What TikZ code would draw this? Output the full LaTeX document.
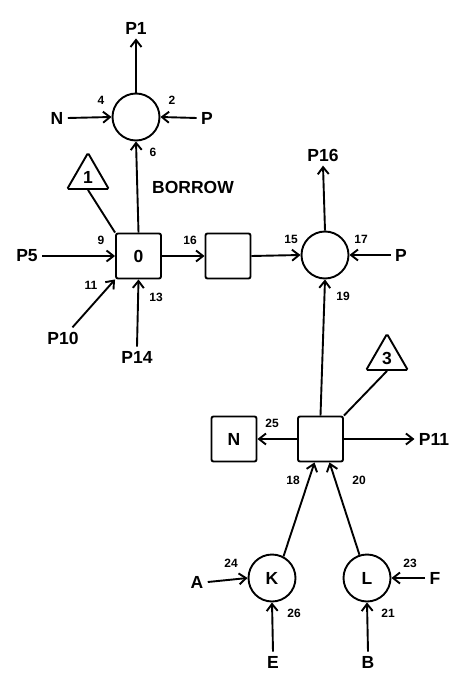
\documentclass[tikz,border=0pt]{standalone}
\usepackage{fontspec}
\setmainfont{Liberation Sans}
\usetikzlibrary{arrows.meta,shapes.geometric,calc}
\begin{document}
\begin{tikzpicture}[x=1pt,y=-1pt,line width=1.9pt,
  arr/.style={-{Straight Barb[length=7pt,width=11pt,line width=1.9pt]}},
  bigfont/.style={font=\bfseries\fontsize{17.5}{18}\selectfont},
  blk/.style={draw,rounded corners=2pt,minimum size=45pt,inner sep=0pt,bigfont},
  junc/.style={draw,circle,minimum size=47pt,inner sep=0pt,bigfont},
  tri/.style={draw,regular polygon,regular polygon sides=3,minimum size=48pt,inner sep=0pt,rounded corners=1.5pt,bigfont},
  lbl/.style={bigfont,inner sep=3.5pt},
  num/.style={font=\bfseries\fontsize{12}{12}\selectfont,inner sep=0pt}]
\useasboundingbox (0,0) rectangle (457,676);
% top junction
\node[junc] (c1) at (136,117) {};
\node[lbl] (P1) at (136,28) {P1};
\node[lbl] (N1) at (57,118) {N};
\node[lbl] (Pa) at (207,118) {P};
\node[num] (n4) at (101,100) {4};
\node[num] (n2) at (172,100) {2};
\node[num] (n6) at (153,152) {6};
\node[tri] (t1) at (88,177) {1};
\node[bigfont] (borrow) at (193,187) {BORROW};
% box 0
\node[blk] (b0) at (138.5,256) {0};
\node[lbl] (P5) at (27,256) {P5};
\node[num] (n9) at (101,240) {9};
\node[lbl] (P10) at (63,338) {P10};
\node[num] (n11) at (91,285) {11};
\node[lbl] (P14) at (137,357) {P14};
\node[num] (n13) at (156,297) {13};
% box 1 and junction 2
\node[blk] (b1) at (228,256) {};
\node[num] (n16) at (190,240) {16};
\node[junc] (c2) at (325,255) {};
\node[num] (n15) at (291,239) {15};
\node[num] (n17) at (361,239) {17};
\node[lbl] (Pb) at (401,255) {P};
\node[lbl] (P16) at (323,155) {P16};
\node[num] (n19) at (343,296) {19};
% lower part
\node[tri] (t3) at (387,358) {3};
\node[blk] (b3) at (320.5,439) {};
\node[blk] (bN) at (234,439) {N};
\node[num] (n25) at (272,423) {25};
\node[lbl] (P11) at (434,439) {P11};
\node[num] (n18) at (293,480) {18};
\node[num] (n20) at (359,480) {20};
\node[junc] (K) at (272,578) {K};
\node[junc] (L) at (367,578) {L};
\node[lbl] (A) at (197,582) {A};
\node[num] (n24) at (231,563) {24};
\node[lbl] (F) at (435,578) {F};
\node[num] (n23) at (410,563) {23};
\node[lbl] (E) at (273,662) {E};
\node[num] (n26) at (294,613) {26};
\node[lbl] (B) at (368,662) {B};
\node[num] (n21) at (388,613) {21};
% connectors
\draw[arr] (c1.north) -- (P1.south);
\draw[arr] (N1.east) -- (c1.west);
\draw[arr] (Pa.west) -- (c1.east);
\draw[arr] (b0.north) -- (c1.south);
\draw (t1.south) -- (b0.north west);
\draw[arr] (P5.east) -- (b0.west);
\draw[arr] (P10) -- (b0.south west);
\draw[arr] (P14.north) -- (b0.south);
\draw[arr] (b0.east) -- (b1.west);
\draw[arr] (b1.east) -- (c2.west);
\draw[arr] (Pb.west) -- (c2.east);
\draw[arr] (c2.north) -- (P16.south);
\draw[arr] (b3.north) -- (c2.south);
\draw (t3.south) -- (b3.north east);
\draw[arr] (b3.west) -- (bN.east);
\draw[arr] (b3.east) -- (P11.west);
\draw[arr] (K.62) -- ([xshift=-6pt]b3.south);
\draw[arr] (L.108) -- ([xshift=9pt]b3.south);
\draw[arr] (A.east) -- (K.west);
\draw[arr] (F.west) -- (L.east);
\draw[arr] (E.north) -- (K.south);
\draw[arr] (B.north) -- (L.south);
\end{tikzpicture}
\end{document}
